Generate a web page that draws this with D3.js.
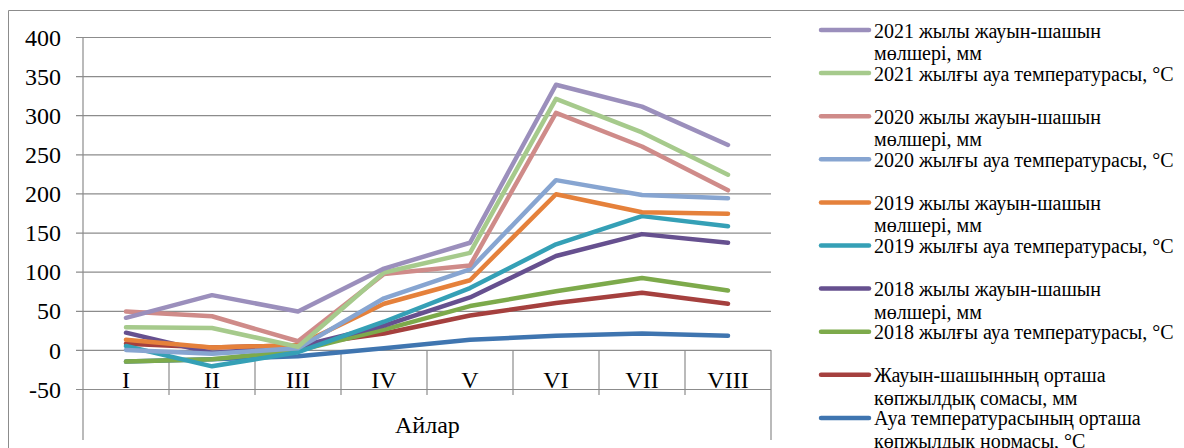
<!DOCTYPE html>
<html>
<head>
<meta charset="utf-8">
<script src="https://cdn.jsdelivr.net/npm/d3@7"></script>
<style>
  html, body { margin: 0; padding: 0; background: #fff; }
  svg { display: block; }
  text { font-family: "Liberation Serif", "Times New Roman", serif; fill: #000; }
</style>
</head>
<body>
<svg id="chart" width="1184" height="448"></svg>
<script>
// ---- data ----
const months = ["I", "II", "III", "IV", "V", "VI", "VII", "VIII"];
const yTicks = [-50, 0, 50, 100, 150, 200, 250, 300, 350, 400];
const axisTitle = "Айлар";

const seriesNames = [
  ["2021 жылы жауын-шашын", "мөлшері, мм"],
  ["2021 жылғы ауа температурасы, °C"],
  ["2020 жылы жауын-шашын", "мөлшері, мм"],
  ["2020 жылғы ауа температурасы, °C"],
  ["2019 жылы жауын-шашын", "мөлшері, мм"],
  ["2019 жылғы ауа температурасы, °C"],
  ["2018 жылы жауын-шашын", "мөлшері, мм"],
  ["2018 жылғы ауа температурасы, °C"],
  ["Жауын-шашынның орташа", "көпжылдық сомасы, мм"],
  ["Ауа температурасының орташа", "көпжылдық нормасы, °C"]
];
const precip2021 = [41, 70, 49, 104, 137, 339, 311, 262];
const temp2021   = [29, 28, 4, 99, 124, 321, 278, 224];
const precip2020 = [49, 43, 11, 97, 108, 303, 260, 204];
const temp2020   = [0, -5, 2, 66, 103, 217, 198, 194];
const precip2019 = [13, 3, 6, 59, 89, 199, 176, 174];
const temp2019   = [5, -21, -3, 36, 79, 135, 171, 158];
const precip2018 = [22, -4, 4, 31, 67, 120, 148, 137];
const temp2018   = [-15, -12, -1, 26, 56, 75, 92, 76];
const precipNorm = [8, 3, 6, 21, 44, 60, 73, 59];
const tempNorm   = [-15, -12, -8, 2, 13, 18, 21, 18];
const seriesValues = [precip2021, temp2021, precip2020, temp2020, precip2019,
                      temp2019, precip2018, temp2018, precipNorm, tempNorm];
const seriesColors = ["#9B8FBC", "#A6CA8C", "#CF8B89", "#87A5D1", "#E5813B",
                      "#35A0B6", "#66508F", "#7DAA4B", "#A5403E", "#3F75B0"];

// ---- layout ----
const svg = d3.select("#chart");
const plotL = 83, plotR = 771, plotT = 37, plotB = 389;
const gridColor = "#8C8C8C";

const x = d3.scaleBand().domain(months).range([plotL, plotR]);
const y = d3.scaleLinear().domain([-50, 400]).range([plotB, plotT]);

// outer chart border
svg.append("path")
  .attr("d", "M8.5,448 L8.5,10.5 L1184,10.5")
  .attr("fill", "none").attr("stroke", gridColor).attr("stroke-width", 1);

// gridlines + tick marks
const grid = svg.append("g").attr("transform", "translate(76,0)")
  .call(d3.axisRight(y).tickValues(yTicks).tickSize(plotR - 76).tickFormat(""));
grid.select(".domain").remove();
grid.selectAll(".tick line").attr("stroke", gridColor).attr("stroke-width", 1.2);

// y labels (plain hyphen for negatives, as in the original)
const yl = svg.append("g").attr("transform", `translate(${plotL},0)`)
  .call(d3.axisLeft(y).tickValues(yTicks).tickSize(0).tickPadding(22).tickFormat(d => String(d)));
yl.select(".domain").remove();
yl.selectAll("text").style("font-size", "24px")
  .style("font-family", "'Liberation Serif', serif").attr("dy", "0.34em");

// vertical axis line
svg.append("line").attr("x1", plotL).attr("x2", plotL)
  .attr("y1", plotT).attr("y2", 440)
  .attr("stroke", gridColor).attr("stroke-width", 1.2);

// category dividers
const bounds = months.map(m => x(m)).concat([plotR]);
svg.append("g").selectAll("line").data(bounds.slice(1)).join("line")
  .attr("x1", d => d).attr("x2", d => d)
  .attr("y1", y(0)).attr("y2", (d, i) => i === bounds.length - 2 ? 440 : 395)
  .attr("stroke", gridColor).attr("stroke-width", 1.2);

// category labels
const xl = svg.append("g").attr("transform", `translate(0,${y(0)})`)
  .call(d3.axisBottom(x).tickSize(0).tickPadding(0));
xl.select(".domain").remove();
xl.selectAll("text").style("font-size", "24px")
  .style("font-family", "'Liberation Serif', serif")
  .attr("y", 38).attr("dy", 0);

// axis title
svg.append("text").attr("x", 395).attr("y", 433)
  .style("font-size", "24px").text(axisTitle);

// lines (drawn bottom series first)
const line = d3.line().x((d, i) => x(months[i]) + x.bandwidth() / 2).y(d => y(d));
const order = d3.range(seriesValues.length).reverse();
svg.append("g").selectAll("path").data(order).join("path")
  .attr("d", i => line(seriesValues[i]))
  .attr("fill", "none")
  .attr("stroke", i => seriesColors[i])
  .attr("stroke-width", 4.5)
  .attr("stroke-linejoin", "round")
  .attr("stroke-linecap", "round");

// legend
const lg = svg.append("g");
seriesNames.forEach((lines, i) => {
  const cy = 30 + 43.1 * i;
  lg.append("line").attr("x1", 821).attr("x2", 869).attr("y1", cy).attr("y2", cy)
    .attr("stroke", seriesColors[i]).attr("stroke-width", 4.5).attr("stroke-linecap", "round");
  const t = lg.append("text").attr("x", 874).attr("y", cy + 7.5).style("font-size", "20px");
  lines.forEach((s, j) => {
    t.append("tspan").attr("x", 874).attr("dy", j === 0 ? 0 : 22.5).text(s);
  });
});
</script>
</body>
</html>
